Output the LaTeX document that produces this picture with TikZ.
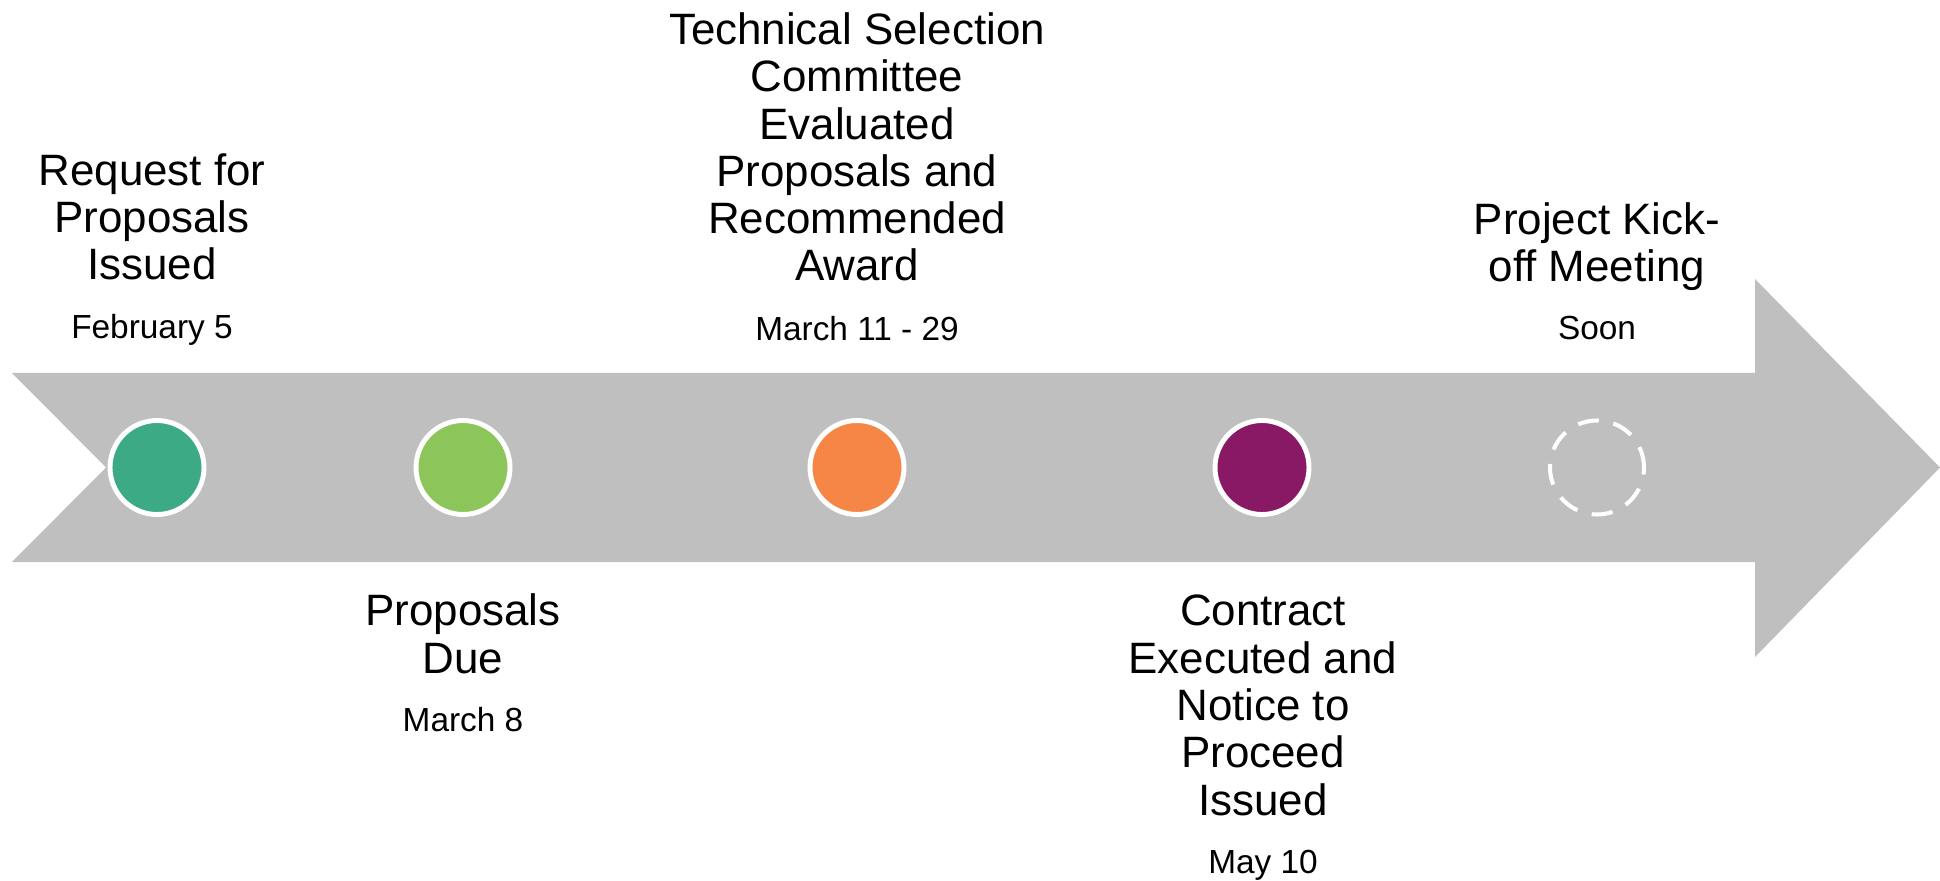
\documentclass[tikz,border=0pt]{standalone}
\usepackage{fontspec}
\setmainfont{Liberation Sans}
\usepackage{xcolor}
\usetikzlibrary{positioning}
\definecolor{bandgray}{RGB}{191,191,191}
\definecolor{msgreen}{RGB}{59,170,133}
\definecolor{mslime}{RGB}{140,198,90}
\definecolor{msorange}{RGB}{245,134,70}
\definecolor{mspurple}{RGB}{137,24,101}
\tikzset{
	milestone/.style={circle,draw=white,line width=2.8pt,minimum size=1.88cm,inner sep=0pt},
	pending/.style={milestone,fill=none,line width=2.3pt,dash pattern=on 12pt off 8.5pt},
	event/.style={align=center,inner sep=0pt,font=\fontsize{25}{26.9}\selectfont},
	when/.style={inner sep=0pt,font=\fontsize{19}{22}\selectfont}
	}
\begin{document}
\begin{tikzpicture}[x=0.02cm,y=-0.02cm]
      \useasboundingbox (0,0) rectangle (1940,881);
      % timeline band
      \fill[bandgray] (12,373) -- (1755,373) -- (1755,279) -- (1940,467.5)
        -- (1755,657) -- (1755,562) -- (12,562) -- (106,467.5) -- cycle;
      % milestones
      \node[milestone,fill=msgreen] (m1) at (157,467.5) {};
      \node[milestone,fill=mslime] (m2) at (463,467.5) {};
      \node[milestone,fill=msorange] (m3) at (857,467.5) {};
      \node[milestone,fill=mspurple] (m4) at (1262,467.5) {};
      \node[pending] (m5) at (1597,467.5) {};
      % labels above
      \node[event,anchor=base] (t1) at (152,280) {Request for\\Proposals\\Issued};
      \node[when,anchor=base] (d1) at (152,339) {February 5};
      \node[event,anchor=base] (t3) at (857,281) {Technical Selection\\Committee\\Evaluated\\Proposals and\\Recommended\\Award};
      \node[when,anchor=base] (d3) at (857,341) {March 11 - 29};
      \node[event,anchor=base] (t5) at (1597,282) {Project Kick-\\off Meeting};
      \node[when,anchor=base] (d5) at (1597,340) {Soon};
      % labels below
      \node[event,anchor=base] (t2) at (463,673) {Proposals\\Due};
      \node[when,anchor=base] (d2) at (463,731) {March 8};
      \node[event,anchor=base] (t4) at (1263,815) {Contract\\Executed and\\Notice to\\Proceed\\Issued};
      \node[when,anchor=base] (d4) at (1263,873) {May 10};
    \end{tikzpicture}
\end{document}
